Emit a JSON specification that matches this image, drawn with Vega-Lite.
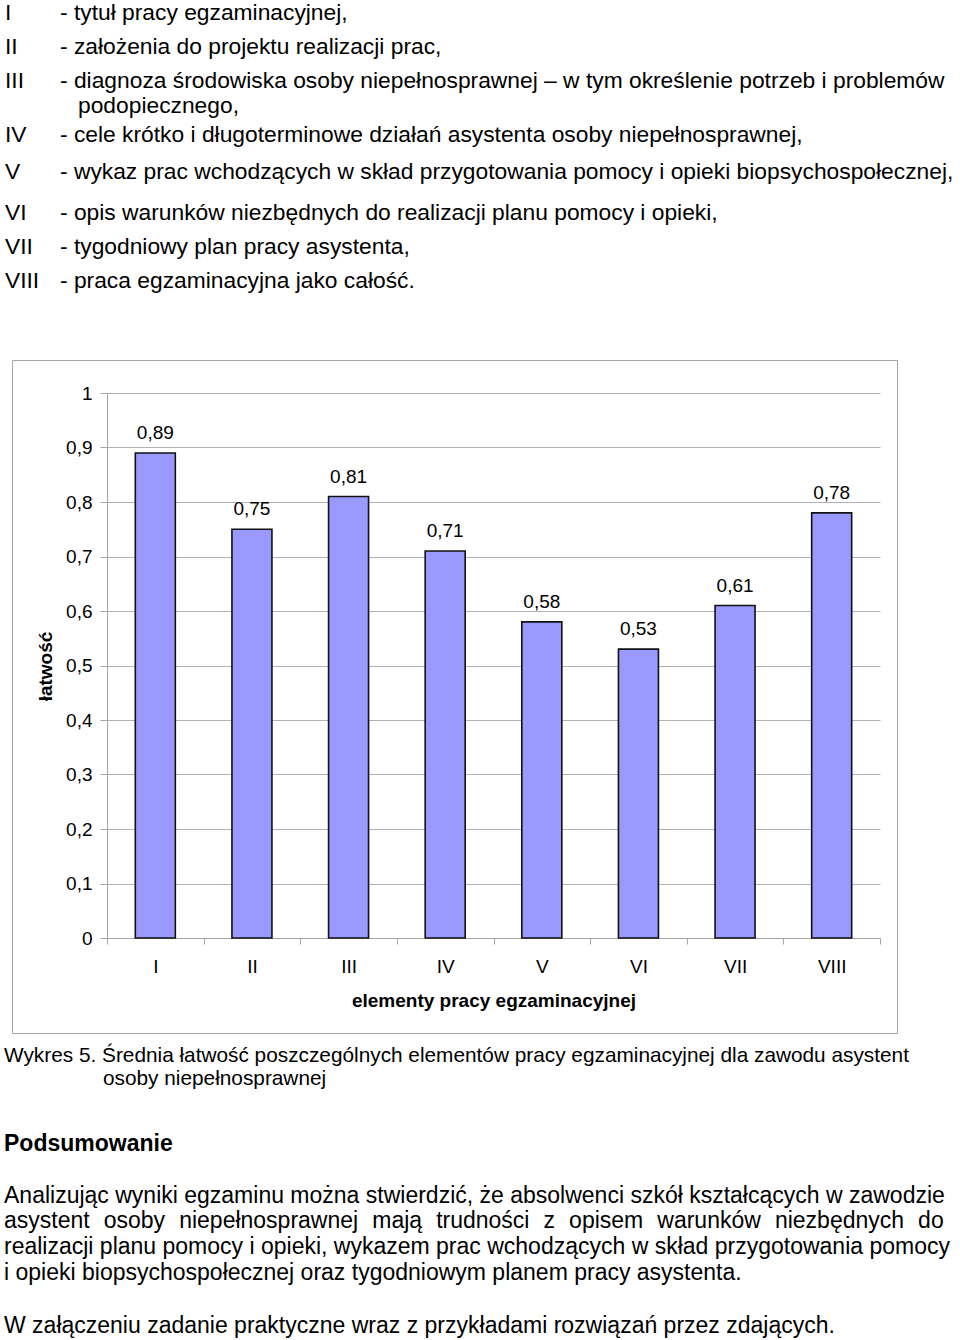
{
  "$schema": "https://vega.github.io/schema/vega-lite/v6.json",
  "padding": {"left": 4, "top": 0, "right": 0, "bottom": 0},
  "background": "white",
  "bounds": "flush",
  "spacing": 0,
  "config": {
    "locale": {"number": {"decimal": ",", "thousands": "\u00a0", "grouping": [3], "currency": ["", " zł"]}},
    "view": {"stroke": null},
    "font": "Liberation Sans",
    "text": {"font": "Liberation Sans", "color": "#000000"}
  },
  "vconcat": [
    {
      "width": 885,
      "height": 360,
      "data": {"values": [
        {"wiersz": 0, "kolumna": 0, "styl": "zwykly", "tekst": "I"},
        {"wiersz": 0, "kolumna": 1, "styl": "zwykly", "tekst": "- tytuł pracy egzaminacyjnej,"},
        {"wiersz": 1, "kolumna": 0, "styl": "zwykly", "tekst": "II"},
        {"wiersz": 1, "kolumna": 1, "styl": "zwykly", "tekst": "- założenia do projektu realizacji prac,"},
        {"wiersz": 2, "kolumna": 0, "styl": "zwykly", "tekst": "III"},
        {"wiersz": 2, "kolumna": 1, "styl": "zwykly", "tekst": "- diagnoza środowiska osoby niepełnosprawnej – w tym określenie potrzeb i problemów"},
        {"wiersz": 2.75, "kolumna": 1, "styl": "ciag", "tekst": "podopiecznego,"},
        {"wiersz": 3.6, "kolumna": 0, "styl": "zwykly", "tekst": "IV"},
        {"wiersz": 3.6, "kolumna": 1, "styl": "zwykly", "tekst": "- cele krótko i długoterminowe działań asystenta osoby niepełnosprawnej,"},
        {"wiersz": 4.7, "kolumna": 0, "styl": "zwykly", "tekst": "V"},
        {"wiersz": 4.7, "kolumna": 1, "styl": "zwykly", "tekst": "- wykaz prac wchodzących w skład przygotowania pomocy i opieki biopsychospołecznej,"},
        {"wiersz": 5.9, "kolumna": 0, "styl": "zwykly", "tekst": "VI"},
        {"wiersz": 5.9, "kolumna": 1, "styl": "zwykly", "tekst": "- opis warunków niezbędnych do realizacji planu pomocy i opieki,"},
        {"wiersz": 6.9, "kolumna": 0, "styl": "zwykly", "tekst": "VII"},
        {"wiersz": 6.9, "kolumna": 1, "styl": "zwykly", "tekst": "- tygodniowy plan pracy asystenta,"},
        {"wiersz": 7.9, "kolumna": 0, "styl": "zwykly", "tekst": "VIII"},
        {"wiersz": 7.9, "kolumna": 1, "styl": "zwykly", "tekst": "- praca egzaminacyjna jako całość."}
      ]},
      "encoding": {
        "x": {"field": "kolumna", "type": "quantitative", "scale": {"domain": [0, 1], "range": [-7, 48], "zero": false, "nice": false}, "axis": null},
        "y": {"field": "wiersz", "type": "quantitative", "scale": {"domain": [0, 10], "range": [19.5, 359.5], "zero": false, "nice": false}, "axis": null},
        "text": {"field": "tekst", "type": "nominal"}
      },
      "layer": [
        {
          "transform": [{"filter": "datum.styl == 'zwykly'"}],
          "mark": {"type": "text", "align": "left", "baseline": "alphabetic", "fontSize": 22.8, "font": "Liberation Sans", "color": "#000000"}
        },
        {
          "transform": [{"filter": "datum.styl == 'ciag'"}],
          "mark": {"type": "text", "align": "left", "baseline": "alphabetic", "dx": 18, "fontSize": 22.8, "font": "Liberation Sans", "color": "#000000"}
        }
      ]
    },
    {
      "width": 885,
      "height": 673,
      "view": {"stroke": "#a6a6a6", "strokeWidth": 1},
      "data": {"values": [
        {"element": "I", "latwosc": 0.89},
        {"element": "II", "latwosc": 0.75},
        {"element": "III", "latwosc": 0.81},
        {"element": "IV", "latwosc": 0.71},
        {"element": "V", "latwosc": 0.58},
        {"element": "VI", "latwosc": 0.53},
        {"element": "VII", "latwosc": 0.61},
        {"element": "VIII", "latwosc": 0.78}
      ]},
      "encoding": {
        "x": {
          "field": "element", "type": "nominal",
          "sort": ["I", "II", "III", "IV", "V", "VI", "VII", "VIII"],
          "scale": {"range": [95, 868], "paddingInner": 0, "paddingOuter": 0},
          "axis": {
            "orient": "bottom", "offset": -95,
            "title": "elementy pracy egzaminacyjnej",
            "titleFont": "Liberation Sans", "titleFontSize": 19, "titleFontWeight": "bold", "titleColor": "#000000",
            "titleX": 481.5, "titleY": 68, "titleBaseline": "alphabetic", "titleAlign": "center",
            "labelFont": "Liberation Sans", "labelFontSize": 19, "labelColor": "#000000", "labelAngle": 0, "labelPadding": 13,
            "tickSize": 6, "tickColor": "#a6a6a6", "domainColor": "#a6a6a6", "tickBand": "extent", "grid": false
          }
        },
        "y": {
          "field": "latwosc", "type": "quantitative",
          "scale": {"domain": [0, 1], "range": [578, 33], "nice": false, "zero": true},
          "axis": {
            "orient": "left", "offset": -95,
            "values": [0, 0.1, 0.2, 0.3, 0.4, 0.5, 0.6, 0.7, 0.8, 0.9, 1],
            "format": "~g",
            "title": "łatwość",
            "titleFont": "Liberation Sans", "titleFontSize": 19, "titleFontWeight": "bold", "titleColor": "#000000",
            "titleAngle": 270, "titleX": -56, "titleY": 306, "titleBaseline": "alphabetic", "titleAlign": "center",
            "labelFont": "Liberation Sans", "labelFontSize": 19, "labelColor": "#000000", "labelPadding": 8,
            "labelFlush": false, "labelOverlap": false,
            "tickSize": 7, "tickColor": "#a6a6a6", "domainColor": "#a6a6a6",
            "grid": true, "gridColor": "#b3b3b3", "gridWidth": 1
          }
        }
      },
      "layer": [
        {"mark": {"type": "bar", "width": 40, "fill": "#9999ff", "stroke": "#111111", "strokeWidth": 1.6}},
        {
          "mark": {"type": "text", "baseline": "alphabetic", "align": "center", "dy": -14, "fontSize": 19, "font": "Liberation Sans", "color": "#000000"},
          "encoding": {"text": {"field": "latwosc", "type": "quantitative", "format": ".2f"}}
        }
      ]
    },
    {
      "width": 885,
      "height": 307,
      "data": {"values": [
        {"wiersz": 0, "kolumna": 0, "styl": "podpis", "tekst": "Wykres 5. Średnia łatwość poszczególnych elementów pracy egzaminacyjnej dla zawodu asystent"},
        {"wiersz": 0.9, "kolumna": 1, "styl": "podpis", "tekst": "osoby niepełnosprawnej"},
        {"wiersz": 3.45, "kolumna": 0, "styl": "naglowek", "tekst": "Podsumowanie"},
        {"wiersz": 5.45, "kolumna": 0, "styl": "zwykly", "tekst": "Analizując wyniki egzaminu można stwierdzić, że absolwenci szkół kształcących w zawodzie"},
        {"wiersz": 6.45, "kolumna": 0, "styl": "zwykly", "tekst": "asystent \u2004osoby \u2004niepełnosprawnej \u2004mają \u2004trudności \u2004z \u2004opisem \u2004warunków \u2004niezbędnych \u2004do"},
        {"wiersz": 7.45, "kolumna": 0, "styl": "zwykly", "tekst": "realizacji planu pomocy i opieki, wykazem prac wchodzących w skład przygotowania pomocy"},
        {"wiersz": 8.45, "kolumna": 0, "styl": "zwykly", "tekst": "i opieki biopsychospołecznej oraz tygodniowym planem pracy asystenta."},
        {"wiersz": 10.5, "kolumna": 0, "styl": "zwykly", "tekst": "W załączeniu zadanie praktyczne wraz z przykładami rozwiązań przez zdających."}
      ]},
      "encoding": {
        "x": {"field": "kolumna", "type": "quantitative", "scale": {"domain": [0, 1], "range": [-8, 91], "zero": false, "nice": false}, "axis": null},
        "y": {"field": "wiersz", "type": "quantitative", "scale": {"domain": [0, 10], "range": [29, 287], "zero": false, "nice": false}, "axis": null},
        "text": {"field": "tekst", "type": "nominal"}
      },
      "layer": [
        {
          "transform": [{"filter": "datum.styl == 'podpis'"}],
          "mark": {"type": "text", "align": "left", "baseline": "alphabetic", "fontSize": 20.8, "font": "Liberation Sans", "color": "#000000"}
        },
        {
          "transform": [{"filter": "datum.styl == 'zwykly'"}],
          "mark": {"type": "text", "align": "left", "baseline": "alphabetic", "fontSize": 23, "font": "Liberation Sans", "color": "#000000"}
        },
        {
          "transform": [{"filter": "datum.styl == 'naglowek'"}],
          "mark": {"type": "text", "align": "left", "baseline": "alphabetic", "fontSize": 23, "fontWeight": "bold", "font": "Liberation Sans", "color": "#000000"}
        }
      ]
    }
  ]
}
